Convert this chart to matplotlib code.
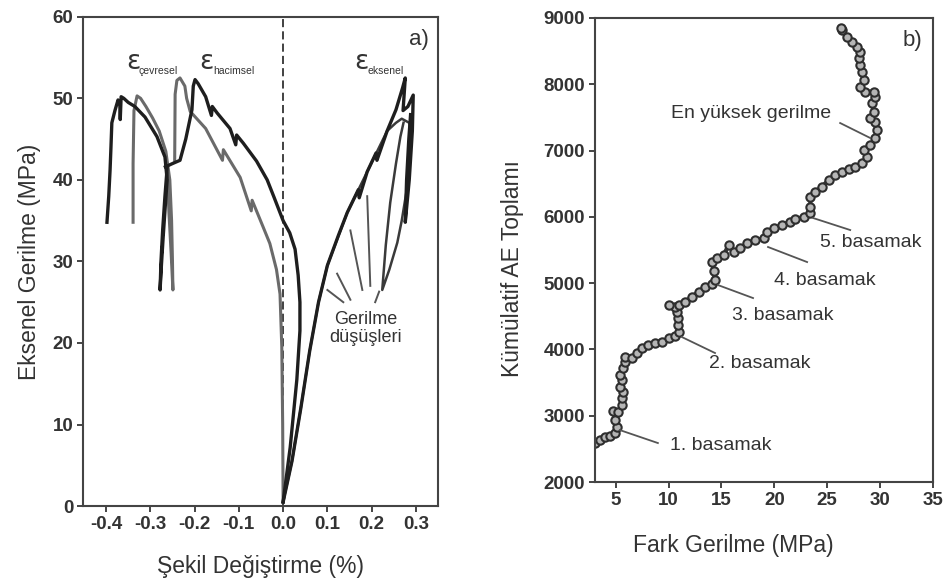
import matplotlib.pyplot as plt

plt.rcParams['font.family'] = ['Liberation Sans', 'DejaVu Sans']

# --- panel a) stress-strain curves (strain %, axial stress MPa)
# axial strain, dark test
eks_dark_x = [0.0, 0.02, 0.04, 0.06, 0.08, 0.10, 0.125, 0.145, 0.17, 0.172, 0.19, 0.21, 0.212,
              0.235, 0.255, 0.27, 0.276, 0.271, 0.282, 0.294, 0.292, 0.285, 0.276, 0.279, 0.284, 0.288]
eks_dark_y = [0.5, 5.5, 12, 19, 25, 29.5, 33.2, 36, 38.8, 37.8, 41, 43.3, 42.4,
              46, 48.6, 51.3, 52.5, 48.5, 49, 50.4, 46, 40, 34.8, 40, 45, 48]
# axial strain, grey test (post-peak loop)
eks_grey_x = [0.0, 0.02, 0.04, 0.06, 0.08, 0.10, 0.145, 0.19, 0.235, 0.255, 0.268, 0.285, 0.29,
              0.28, 0.268, 0.258, 0.24, 0.224, 0.232, 0.242, 0.255, 0.265, 0.272]
eks_grey_y = [0.5, 5.5, 12, 19, 25, 29.5, 36, 41, 46, 47, 47.5, 47, 45,
              39, 35, 32.3, 29, 26.5, 32, 37.2, 42, 45.3, 47]

# volumetric strain
hac_dark_x = [0.0, 0.016, 0.031, 0.038, 0.038, 0.034, 0.027, 0.015, 0.0, -0.02, -0.036, -0.06,
              -0.09, -0.105, -0.107, -0.12, -0.149, -0.16, -0.162, -0.175, -0.192, -0.199,
              -0.203, -0.206, -0.22, -0.233, -0.25, -0.266]
hac_dark_y = [0.5, 7.2, 15.5, 21.5, 25, 28.3, 31.5, 33.5, 35, 37.8, 40, 42.3,
              44.5, 45.5, 44.3, 46.3, 48.2, 49.0, 47.9, 50.2, 51.8, 52.3,
              51.5, 48.6, 45, 42.4, 42, 41.6]
hac_grey_x = [0.0, -0.001, -0.003, -0.007, -0.015, -0.03, -0.045, -0.07, -0.072, -0.097,
              -0.135, -0.137, -0.175, -0.21, -0.218, -0.222, -0.233, -0.24, -0.244, -0.245]
hac_grey_y = [0.5, 10, 19.5, 26, 29, 32.2, 34.2, 37.5, 36.2, 40.3,
              43.7, 42.4, 46.3, 48.4, 50, 51.5, 52.5, 52.2, 50.5, 42.4]

# circumferential strain
cev_dark_x = [-0.398, -0.394, -0.391, -0.389, -0.387, -0.38, -0.373, -0.369, -0.368, -0.366,
              -0.36, -0.35, -0.335, -0.312, -0.285, -0.267, -0.262, -0.266, -0.271, -0.275,
              -0.278, -0.276, -0.272, -0.267, -0.262]
cev_dark_y = [34.8, 38, 41.2, 44, 47, 48.5, 49.8, 49.4, 47.4, 50.2,
              50, 49.5, 49, 47.7, 45.3, 42.8, 40, 37, 33, 29.5,
              26.5, 30, 34, 38, 41.5]
cev_grey_x = [-0.339, -0.339, -0.337, -0.33, -0.322, -0.31, -0.295, -0.28, -0.265, -0.256,
              -0.252, -0.25, -0.249, -0.253, -0.258, -0.262]
cev_grey_y = [34.8, 42, 48.5, 50.3, 50, 49, 47.6, 46, 43.5, 40,
              35, 30, 26.5, 31, 36, 41]

# stress drop pointer lines (x0, y0, x1, y1)
drop_lines = [(0.100, 26.5, 0.136, 25.0),
              (0.122, 28.5, 0.152, 25.3),
              (0.152, 33.8, 0.179, 26.5),
              (0.190, 38.0, 0.197, 27.0),
              (0.217, 26.3, 0.208, 25.0)]

# --- panel b) cumulative AE vs differential stress
fark_gerilme = [3.03, 3.50, 3.98, 4.45, 4.93, 5.09, 4.93, 4.77, 5.25, 5.56, 5.56, 5.72, 5.40,
                5.56, 5.40, 5.72, 5.88, 5.88, 6.51, 6.98, 7.46, 8.09, 8.72, 9.36, 9.99, 10.62,
                11.00, 10.87, 10.87, 10.78, 10.62, 9.99, 10.94, 11.57, 12.20, 12.84, 13.47,
                14.10, 14.36, 14.26, 14.10, 14.57, 15.21, 15.68, 16.16, 16.79, 17.42, 18.21,
                19.01, 19.32, 19.95, 20.74, 21.53, 22.00, 22.80, 23.43, 23.43, 23.40, 23.87,
                24.51, 25.14, 25.77, 26.41, 27.03, 27.67, 28.30, 28.78, 28.46, 29.09, 29.57,
                29.73, 29.57, 29.09, 29.41, 29.25, 29.57, 29.41, 28.62, 28.14, 28.46, 28.30,
                28.14, 27.98, 28.14, 27.83, 27.36, 26.88, 26.41, 26.31]
ae_toplam = [2583, 2633, 2674, 2694, 2734, 2825, 2935, 3076, 3061, 3161, 3262, 3362, 3438,
             3538, 3614, 3715, 3815, 3890, 3865, 3941, 4016, 4066, 4092, 4116, 4167, 4202,
             4267, 4368, 4469, 4569, 4644, 4670, 4670, 4720, 4795, 4870, 4946,
             4986, 5047, 5187, 5323, 5374, 5424, 5575, 5474, 5525, 5600, 5650,
             5675, 5776, 5826, 5876, 5926, 5962, 6002, 6052, 6152, 6303, 6378,
             6454, 6555, 6630, 6680, 6721, 6756, 6807, 6907, 7008, 7083, 7183,
             7309, 7434, 7485, 7585, 7712, 7812, 7887, 7887, 7962, 8063, 8188,
             8289, 8390, 8490, 8565, 8640, 8716, 8817, 8852]

# annotation: text, text position, line start, line end
ae_notes = [("En yüksek gerilme", (17.8, 7566), (26.24, 7415), (29.09, 7189)),
            ("5. basamak", (29.1, 5620), (23.68, 5982), (27.19, 5801)),
            ("4. basamak", (24.8, 5047), (19.41, 5545), (23.11, 5318)),
            ("3. basamak", (20.8, 4519), (14.67, 4971), (17.99, 4775)),
            ("2. basamak", (18.6, 3795), (11.25, 4187), (14.39, 3946)),
            ("1. basamak", (14.9, 2558), (5.37, 2784), (8.98, 2588))]

txt = '#333333'
dark = '#1e1e1e'
grey = '#6a6a6a'

fig = plt.figure(figsize=(9.44, 5.79), dpi=100)
ax1 = fig.add_axes([0.088, 0.126, 0.376, 0.845])
ax2 = fig.add_axes([0.630, 0.1675, 0.358, 0.8015])

for ax in (ax1, ax2):
    for sp in ax.spines.values():
        sp.set_color('#444444')
        sp.set_linewidth(1.5)
    ax.tick_params(direction='out', length=4, width=1.4, color='#444444',
                   labelsize=13.5, labelcolor=txt, pad=3)

# panel a
ax1.axvline(0, color='#333333', lw=1.3, ls=(0, (4.5, 2.3)), zorder=1)
ax1.plot(hac_grey_x, hac_grey_y, color=grey, lw=2.2, solid_joinstyle='round', zorder=2)
ax1.plot(cev_grey_x, cev_grey_y, color=grey, lw=2.2, solid_joinstyle='round', zorder=2)
ax1.plot(eks_grey_x, eks_grey_y, color='#3a3a3a', lw=1.8, solid_joinstyle='round', zorder=2)
ax1.plot(hac_dark_x, hac_dark_y, color=dark, lw=2.4, solid_joinstyle='round', zorder=3)
ax1.plot(cev_dark_x, cev_dark_y, color=dark, lw=2.4, solid_joinstyle='round', zorder=3)
ax1.plot(eks_dark_x, eks_dark_y, color=dark, lw=2.4, solid_joinstyle='round', zorder=3)
for x0, y0, x1, y1 in drop_lines:
    ax1.plot([x0, x1], [y0, y1], color='#555555', lw=1.4)

ax1.set_xlim(-0.452, 0.35)
ax1.set_ylim(0, 60)
ax1.set_xticks([-0.4, -0.3, -0.2, -0.1, 0.0, 0.1, 0.2, 0.3])
ax1.set_xticklabels(['-0.4', '-0.3', '-0.2', '-0.1', '0.0', '0.1', '0.2', '0.3'], fontweight='bold')
ax1.set_yticks(range(0, 61, 10))
ax1.set_yticklabels([str(v) for v in range(0, 61, 10)], fontweight='bold')
ax1.set_xlabel('Şekil Değiştirme (%)', fontsize=16.5, color=txt, labelpad=16)
ax1.set_ylabel('Eksenel Gerilme (MPa)', fontsize=16.5, color=txt, labelpad=8)

ax1.text(0.308, 57.2, 'a)', fontsize=16, color=txt, ha='center', va='center')
for ex, sx, sub in [(-0.355, -0.326, 'çevresel'), (-0.190, -0.158, 'hacimsel'),
                    (0.161, 0.191, 'eksenel')]:
    ax1.text(ex, 54.4, 'ε', fontsize=19, color=txt, ha='left', va='center',
             family=['DejaVu Sans'])
    ax1.text(sx, 53.4, sub, fontsize=7.5, color=txt, ha='left', va='center')
ax1.text(0.186, 21.8, 'Gerilme\ndüşüşleri', fontsize=13, color=txt, ha='center',
         va='center', linespacing=1.1)

# panel b
ax2.plot(fark_gerilme, ae_toplam, color='#3a3a3a', lw=3, solid_joinstyle='round',
         marker='o', ms=6, mfc='#b5b5b5', mec='#2e2e2e', mew=1.5)
for label, tpos, p0, p1 in ae_notes:
    ax2.plot([p0[0], p1[0]], [p0[1], p1[1]], color='#555555', lw=1.3)
    ax2.text(tpos[0], tpos[1], label, fontsize=14, color=txt, ha='center', va='center')
ax2.text(33.1, 8667, 'b)', fontsize=16, color=txt, ha='center', va='center')

ax2.set_xlim(3, 35)
ax2.set_ylim(2000, 9000)
ax2.set_xticks(range(5, 36, 5))
ax2.set_xticklabels([str(v) for v in range(5, 36, 5)], fontweight='bold')
ax2.set_yticks(range(2000, 9001, 1000))
ax2.set_yticklabels([str(v) for v in range(2000, 9001, 1000)], fontweight='bold')
ax2.set_xlabel('Fark Gerilme (MPa)', fontsize=16.5, color=txt)
ax2.set_ylabel('Kümülatif AE Toplamı', fontsize=16.5, color=txt)
ax2.xaxis.set_label_coords(0.41, -0.112)
ax2.yaxis.set_label_coords(-0.21, 0.46)

fig.savefig('out.png', dpi=100)
